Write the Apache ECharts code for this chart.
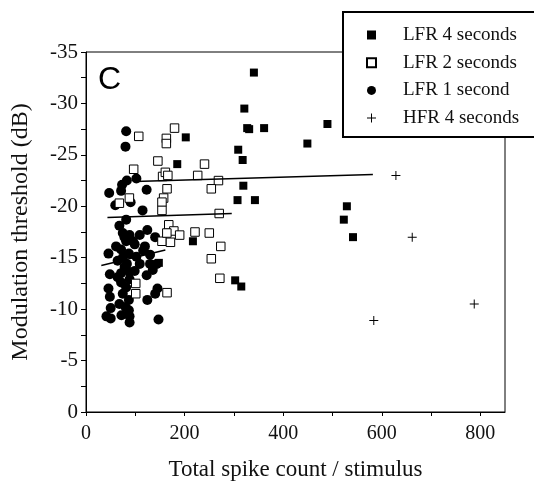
<!DOCTYPE html>
<html>
<head>
<meta charset="utf-8">
<script src="https://cdn.jsdelivr.net/npm/echarts@6/dist/echarts.min.js"></script>
<style>
  html, body { margin: 0; padding: 0; background: #fff; }
  #chart { width: 534px; height: 486px; }
</style>
</head>
<body>
<div id="chart"></div>
<script>
// points: [spike count, threshold dB]
var lfr4 = [
    [340.6, -33.0], [321.2, -29.5], [327, -27.6], [331, -27.5], [361.3, -27.6],
    [202.4, -26.7], [185.1, -24.1], [308.8, -25.5], [317.8, -24.5], [319.2, -22.0],
    [307.4, -20.6], [342.7, -20.6], [216.9, -16.6], [302.6, -12.8], [315.0, -12.2],
    [449.1, -26.1], [489.8, -28.0], [529.2, -20.0], [523.0, -18.7], [541.6, -17.0],
    [147.8, -14.5]
];
var lfr2 = [
    [179.6, -27.6], [107, -26.8], [163, -26.6], [163, -26.1], [96.7, -23.6],
    [145.8, -24.4], [240.4, -24.1], [155.4, -22.9], [161, -23.3], [166, -23.0],
    [226.6, -23.0], [268.7, -22.5], [164.4, -21.7], [254.2, -21.7], [157.5, -20.8],
    [154.1, -20.4], [154.1, -19.6], [67.7, -20.3], [88, -20.8], [270.2, -19.3],
    [167.9, -18.2], [178.2, -17.6], [190, -17.2], [221.1, -17.5], [250.1, -17.4],
    [154.1, -16.6], [171.3, -16.5], [164, -17.4], [273.4, -16.1], [254.2, -14.9],
    [271.5, -13.0], [100.9, -12.5], [100.9, -11.5], [164.4, -11.6]
];
var lfr1 = [
    [81.5, -27.3], [80.1, -25.8], [47, -21.3], [73.2, -22.1], [82.9, -22.5],
    [102.2, -22.7], [71.2, -21.5], [123, -21.6], [59.4, -20.1], [90.5, -20.4],
    [114.7, -19.6], [81.5, -18.7], [67.7, -18.1], [74.6, -17.4], [88.4, -17.2],
    [109, -17.2], [124.4, -17.7], [140.3, -17.0], [81.5, -16.6], [98.8, -16.3],
    [119.5, -16.1], [45.6, -15.4], [71.2, -15.8], [87, -15.4], [102.2, -15.1],
    [129.9, -15.3], [64.2, -14.7], [82.9, -14.4], [109, -14.4], [129.9, -14.4],
    [143.7, -14.4], [48.4, -13.4], [71.2, -13.5], [88.4, -13.6], [123, -13.3],
    [135.4, -13.8], [88.4, -12.9], [71.2, -12.6], [81.5, -12.1], [45.6, -12.0],
    [48.4, -11.2], [74.6, -11.5], [145, -12.0], [140.3, -11.5], [87, -10.9],
    [124.4, -10.9], [67.7, -10.5], [80.1, -10.2], [87, -9.9], [50.1, -10.1],
    [41.5, -9.3], [50.1, -9.1], [71.9, -9.4], [88.4, -9.3], [88.4, -8.7],
    [147.1, -9.0], [64.2, -13.1], [98.8, -13.7], [78.4, -14.1], [74.6, -15.0],
    [95.4, -16.6], [78, -17.0], [116, -15.7], [61, -16.1]
];
var hfr4 = [[628.7, -23.0], [661.8, -17.0], [787.6, -10.5], [583.8, -8.9]];

// regression lines (end points)
var fit4 = [[98.8, -22.4], [582, -23.1]];
var fit2 = [[43.5, -18.9], [295.7, -19.3]];
var fit1 = [[31.1, -14.25], [161, -15.75]];

var xLabels = [0, 200, 400, 600, 800];
var xTicks = [0, 100, 200, 300, 400, 500, 600, 700, 800];

var serif = '"Liberation Serif", "DejaVu Serif", serif';
var plusPath = 'path://M0,4.45H10V5.55H0Z M4.45,0H5.55V10H4.45Z';

var myChart = echarts.init(document.getElementById('chart'));

function fitLine(data) {
    return {
        type: 'line',
        data: data,
        symbol: 'none',
        silent: true,
        z: 6,
        lineStyle: { color: '#000', width: 1.5 }
    };
}

var option = {
    animation: false,
    backgroundColor: '#fff',
    grid: {
        left: 86, right: 29, top: 52, bottom: 69,
        show: true, borderColor: '#000', borderWidth: 1
    },
    xAxis: {
        type: 'value',
        min: 0, max: 850,
        name: 'Total spike count / stimulus',
        nameLocation: 'middle',
        nameGap: 46,
        nameTextStyle: { fontFamily: serif, fontSize: 23, color: '#111' },
        axisLine: { lineStyle: { color: '#000', width: 1 } },
        axisTick: { customValues: xTicks, length: 4, lineStyle: { color: '#000' } },
        axisLabel: { customValues: xLabels, fontFamily: serif, fontSize: 20, color: '#111', margin: 12 },
        splitLine: { show: false }
    },
    yAxis: {
        type: 'value',
        min: -35, max: 0, interval: 5,
        inverse: true,
        name: 'Modulation threshold (dB)',
        nameLocation: 'middle',
        nameGap: 53,
        nameTextStyle: { fontFamily: serif, fontSize: 24, color: '#111' },
        axisLine: { lineStyle: { color: '#000', width: 1 } },
        axisTick: { length: 5, lineStyle: { color: '#000' } },
        minorTick: { show: true, splitNumber: 2, length: 5, lineStyle: { color: '#000' } },
        axisLabel: { fontFamily: serif, fontSize: 21, color: '#111', margin: 8 },
        splitLine: { show: false }
    },
    legend: {
        orient: 'vertical',
        left: 366, top: 25,
        padding: 0,
        itemWidth: 9, itemHeight: 9,
        itemGap: 7.7,
        z: 10,
        textStyle: { fontFamily: serif, fontSize: 19, color: '#111', lineHeight: 20, padding: [0, 0, 0, 22] },
        data: ['LFR 4 seconds', 'LFR 2 seconds', 'LFR 1 second', 'HFR 4 seconds']
    },
    graphic: [
        {
            type: 'rect', z: 9,
            shape: { x: 343, y: 12, width: 200, height: 125 },
            style: { fill: '#fff', stroke: '#000', lineWidth: 2 }
        },
        {
            type: 'text', z: 9, left: 98, top: 64,
            style: { text: 'C', fontFamily: '"Liberation Sans", Arial, sans-serif', fontSize: 32, fill: '#000' }
        }
    ],
    series: [
        {
            name: 'LFR 4 seconds', type: 'scatter', data: lfr4, z: 5,
            symbol: 'rect', symbolSize: 8,
            itemStyle: { color: '#000', opacity: 1 }
        },
        {
            name: 'LFR 2 seconds', type: 'scatter', data: lfr2, z: 4,
            symbol: 'rect', symbolSize: 8.5,
            itemStyle: { color: '#fff', borderColor: '#000', borderWidth: 1, opacity: 1 }
        },
        {
            name: 'LFR 1 second', type: 'scatter', data: lfr1, z: 3,
            symbol: 'circle', symbolSize: 10,
            itemStyle: { color: '#000', opacity: 1 }
        },
        {
            name: 'HFR 4 seconds', type: 'scatter', data: hfr4, z: 5,
            symbol: plusPath, symbolSize: 9,
            itemStyle: { color: '#000', opacity: 1 }
        },
        fitLine(fit4),
        fitLine(fit2),
        fitLine(fit1)
    ]
};
myChart.setOption(option);
</script>
</body>
</html>
